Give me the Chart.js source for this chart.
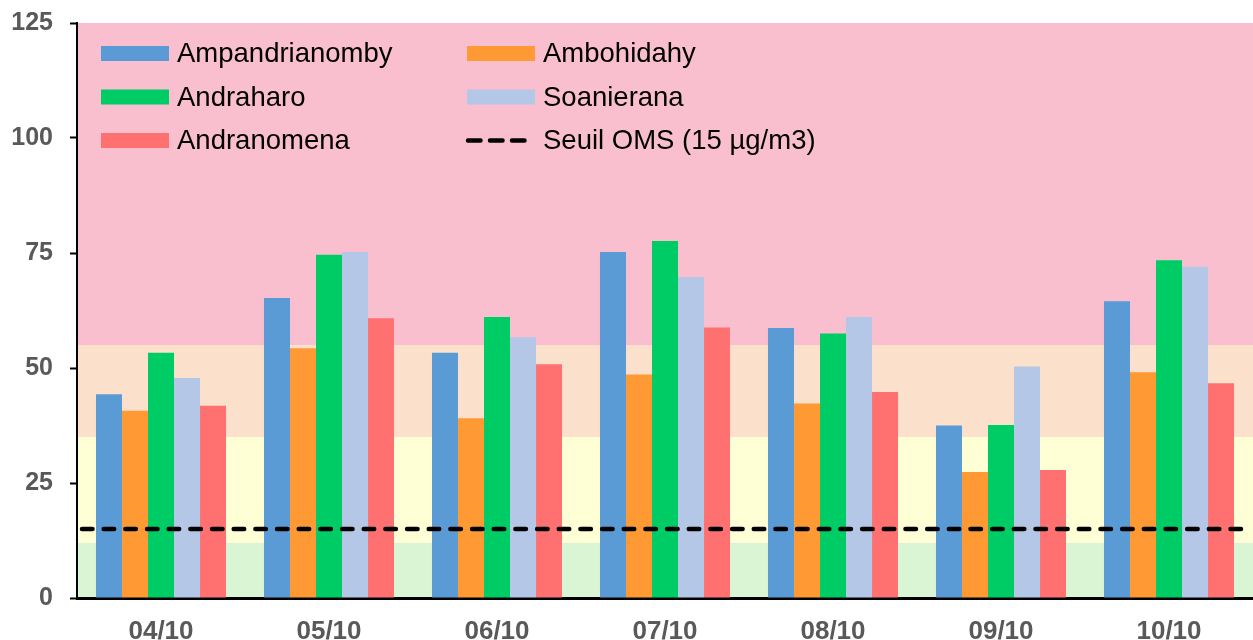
<!DOCTYPE html>
<html>
<head>
<meta charset="utf-8">
<script src="https://cdn.jsdelivr.net/npm/chart.js@4/dist/chart.umd.min.js"></script>
<style>
  html, body { margin: 0; padding: 0; background: #ffffff; overflow: hidden; }
  #wrap { width: 1253px; height: 640px; overflow: hidden; position: relative; }
  canvas { display: block; }
</style>
</head>
<body>
<div id="wrap"><canvas id="c" width="1253" height="660"></canvas></div>
<script>
// ---- Data ----
const categories = ["04/10", "05/10", "06/10", "07/10", "08/10", "09/10", "10/10"];
const seriesNames = ["Ampandrianomby", "Ambohidahy", "Andraharo", "Soanierana", "Andranomena"];
const ampandrianomby = [44.3, 65.2, 53.3, 75.2, 58.7, 37.5, 64.5];
const ambohidahy     = [40.7, 54.3, 39.1, 48.6, 42.3, 27.4, 49.1];
const andraharo      = [53.3, 74.6, 61.1, 77.6, 57.5, 37.6, 73.4];
const soanierana     = [47.8, 75.2, 56.7, 69.8, 61.1, 50.3, 72.0];
const andranomena    = [41.8, 60.8, 50.8, 58.8, 44.8, 27.8, 46.7];
const seuilOMS = 15;
const seuilLabel = "Seuil OMS (15 µg/m3)";
const yTicks = [0, 25, 50, 75, 100, 125];
const bandLimits = [0, 12, 35, 55, 125];

// ---- Styles ----
const seriesColors = ["#5B9BD5", "#FF9933", "#00CC66", "#B4C7E7", "#FF7171"];
const bandColors = ["#DAF5D3", "#FFFFD6", "#FBE0CC", "#F9BFCE"];
const FONT = "'Liberation Sans', Arial, sans-serif";

const seriesValues = [ampandrianomby, ambohidahy, andraharo, soanierana, andranomena];

const bandsPlugin = {
  id: 'bands',
  beforeDraw(chart) {
    const { ctx, chartArea, scales } = chart;
    const y = scales.y;
    ctx.save();
    for (let i = 0; i < bandColors.length; i++) {
      const yTop = y.getPixelForValue(bandLimits[i + 1]);
      const yBot = y.getPixelForValue(bandLimits[i]);
      ctx.fillStyle = bandColors[i];
      ctx.fillRect(chartArea.left, yTop, chartArea.right - chartArea.left, yBot - yTop);
    }
    ctx.restore();
  }
};

const thresholdPlugin = {
  id: 'threshold',
  afterDatasetsDraw(chart) {
    const { ctx, chartArea, scales } = chart;
    const yp = scales.y.getPixelForValue(seuilOMS);
    ctx.save();
    ctx.strokeStyle = '#000000';
    ctx.lineWidth = 4.5;
    ctx.lineCap = 'round';
    ctx.setLineDash([10.5, 11.17]);
    ctx.beginPath();
    ctx.moveTo(chartArea.left + 5, yp);
    ctx.lineTo(chartArea.right - 8, yp);
    ctx.stroke();
    ctx.restore();
  }
};

const legendPlugin = {
  id: 'customLegend',
  afterDraw(chart) {
    const { ctx } = chart;
    const colX = [101, 467];
    const rowY = [53.5, 97, 140.5];
    const swW = 68, swH = 15, textGap = 8;
    const items = chart.data.datasets.map(d => ({ label: d.label, color: d.backgroundColor, dash: false }));
    items.push({ label: seuilLabel, color: '#000000', dash: true });
    ctx.save();
    ctx.font = "27.5px " + FONT;
    ctx.textBaseline = 'middle';
    ctx.textAlign = 'left';
    items.forEach((it, i) => {
      const col = i % 2, row = Math.floor(i / 2);
      const x = colX[col], y = rowY[row];
      if (it.dash) {
        ctx.strokeStyle = it.color;
        ctx.lineWidth = 4.5;
        ctx.lineCap = 'round';
        ctx.setLineDash([12.5, 9.5]);
        ctx.beginPath();
        ctx.moveTo(x + 1, y);
        ctx.lineTo(x + swW - 1, y);
        ctx.stroke();
        ctx.setLineDash([]);
      } else {
        ctx.fillStyle = it.color;
        ctx.fillRect(x, y - swH / 2, swW, swH);
      }
      ctx.fillStyle = '#000000';
      ctx.fillText(it.label, x + swW + textGap, y + 1);
    });
    ctx.restore();
  }
};

new Chart(document.getElementById('c'), {
  type: 'bar',
  data: {
    labels: categories,
    datasets: seriesNames.map((name, i) => ({
      label: name,
      data: seriesValues[i],
      backgroundColor: seriesColors[i],
      borderWidth: 0,
      categoryPercentage: 0.774,
      barPercentage: 1.0
    }))
  },
  options: {
    responsive: false,
    devicePixelRatio: 1,
    animation: false,
    layout: { padding: { top: 23, right: 0, left: 0, bottom: 0 } },
    plugins: { legend: { display: false }, tooltip: { enabled: false } },
    scales: {
      x: {
        grid: { display: false },
        border: { display: true, color: '#000000', width: 3 },
        ticks: { color: '#595959', font: { family: FONT, size: 26, weight: 'bold' }, padding: 10, maxRotation: 0 },
        afterFit(scale) { scale.height = 62; scale.paddingLeft = 0; scale.paddingRight = 0; }
      },
      y: {
        min: 0, max: 125,
        afterBuildTicks(scale) { scale.ticks = yTicks.map(v => ({ value: v })); },
        grid: { display: true, drawOnChartArea: false, drawTicks: true, tickLength: 7, tickColor: '#000000', tickWidth: 2 },
        border: { display: true, color: '#000000', width: 2 },
        ticks: { color: '#595959', font: { family: FONT, size: 25, weight: 'bold' }, padding: 17 },
        afterFit(scale) { scale.width = 77; scale.paddingTop = 0; scale.paddingBottom = 0; }
      }
    }
  },
  plugins: [bandsPlugin, thresholdPlugin, legendPlugin]
});
</script>
</body>
</html>
